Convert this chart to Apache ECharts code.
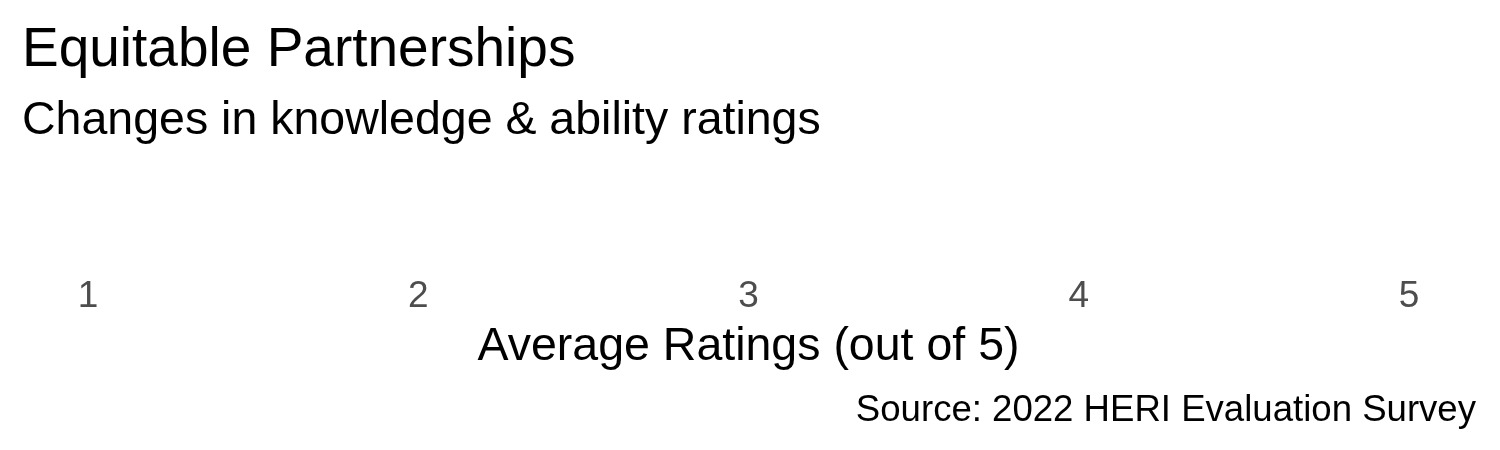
<!DOCTYPE html>
<html>
<head>
<meta charset="utf-8">
<script src="https://cdn.jsdelivr.net/npm/echarts@6/dist/echarts.min.js"></script>
<style>
html,body{margin:0;padding:0;background:#fff;}
#chart{width:1500px;height:450px;}
</style>
</head>
<body>
<div id="chart"></div>
<script>
// Data (the reference shows an empty panel: no marks are drawn)
const categories = [];
const ratings = [];
const tickValues = [1, 2, 3, 4, 5];
const titleText = "Equitable Partnerships";
const subtitleText = "Changes in knowledge & ability ratings";
const xAxisTitle = "Average Ratings (out of 5)";
const captionText = "Source: 2022 HERI Evaluation Survey";

const FONT = "'Liberation Sans', Arial, sans-serif";
const chart = echarts.init(document.getElementById('chart'), null, {renderer: 'canvas'});
chart.setOption({
  backgroundColor: '#ffffff',
  animation: false,
  textStyle: {fontFamily: FONT},
  title: [
    {text: titleText, left: 17, top: 18,
     textStyle: {fontFamily: FONT, fontSize: 55, fontWeight: 'normal', color: '#000000'}},
    {text: subtitleText, left: 17, top: 93,
     textStyle: {fontFamily: FONT, fontSize: 46.5, fontWeight: 'normal', color: '#000000'}},
    {text: captionText, right: 19, top: 387,
     textStyle: {fontFamily: FONT, fontSize: 36.6, fontWeight: 'normal', color: '#000000'}}
  ],
  grid: {left: 88, right: 91, top: 200, bottom: 178, containLabel: false},
  xAxis: {
    type: 'value',
    min: tickValues[0],
    max: tickValues[tickValues.length - 1],
    interval: 1,
    name: xAxisTitle,
    nameLocation: 'middle',
    nameGap: 52,
    nameTextStyle: {fontFamily: FONT, fontSize: 46.5, color: '#000000'},
    axisLine: {show: false},
    axisTick: {show: false},
    splitLine: {show: false},
    axisLabel: {fontFamily: FONT, fontSize: 37, color: '#4d4d4d', margin: 6}
  },
  yAxis: {
    type: 'category',
    data: categories,
    show: false
  },
  series: [{type: 'scatter', data: ratings}]
});
</script>
</body>
</html>
